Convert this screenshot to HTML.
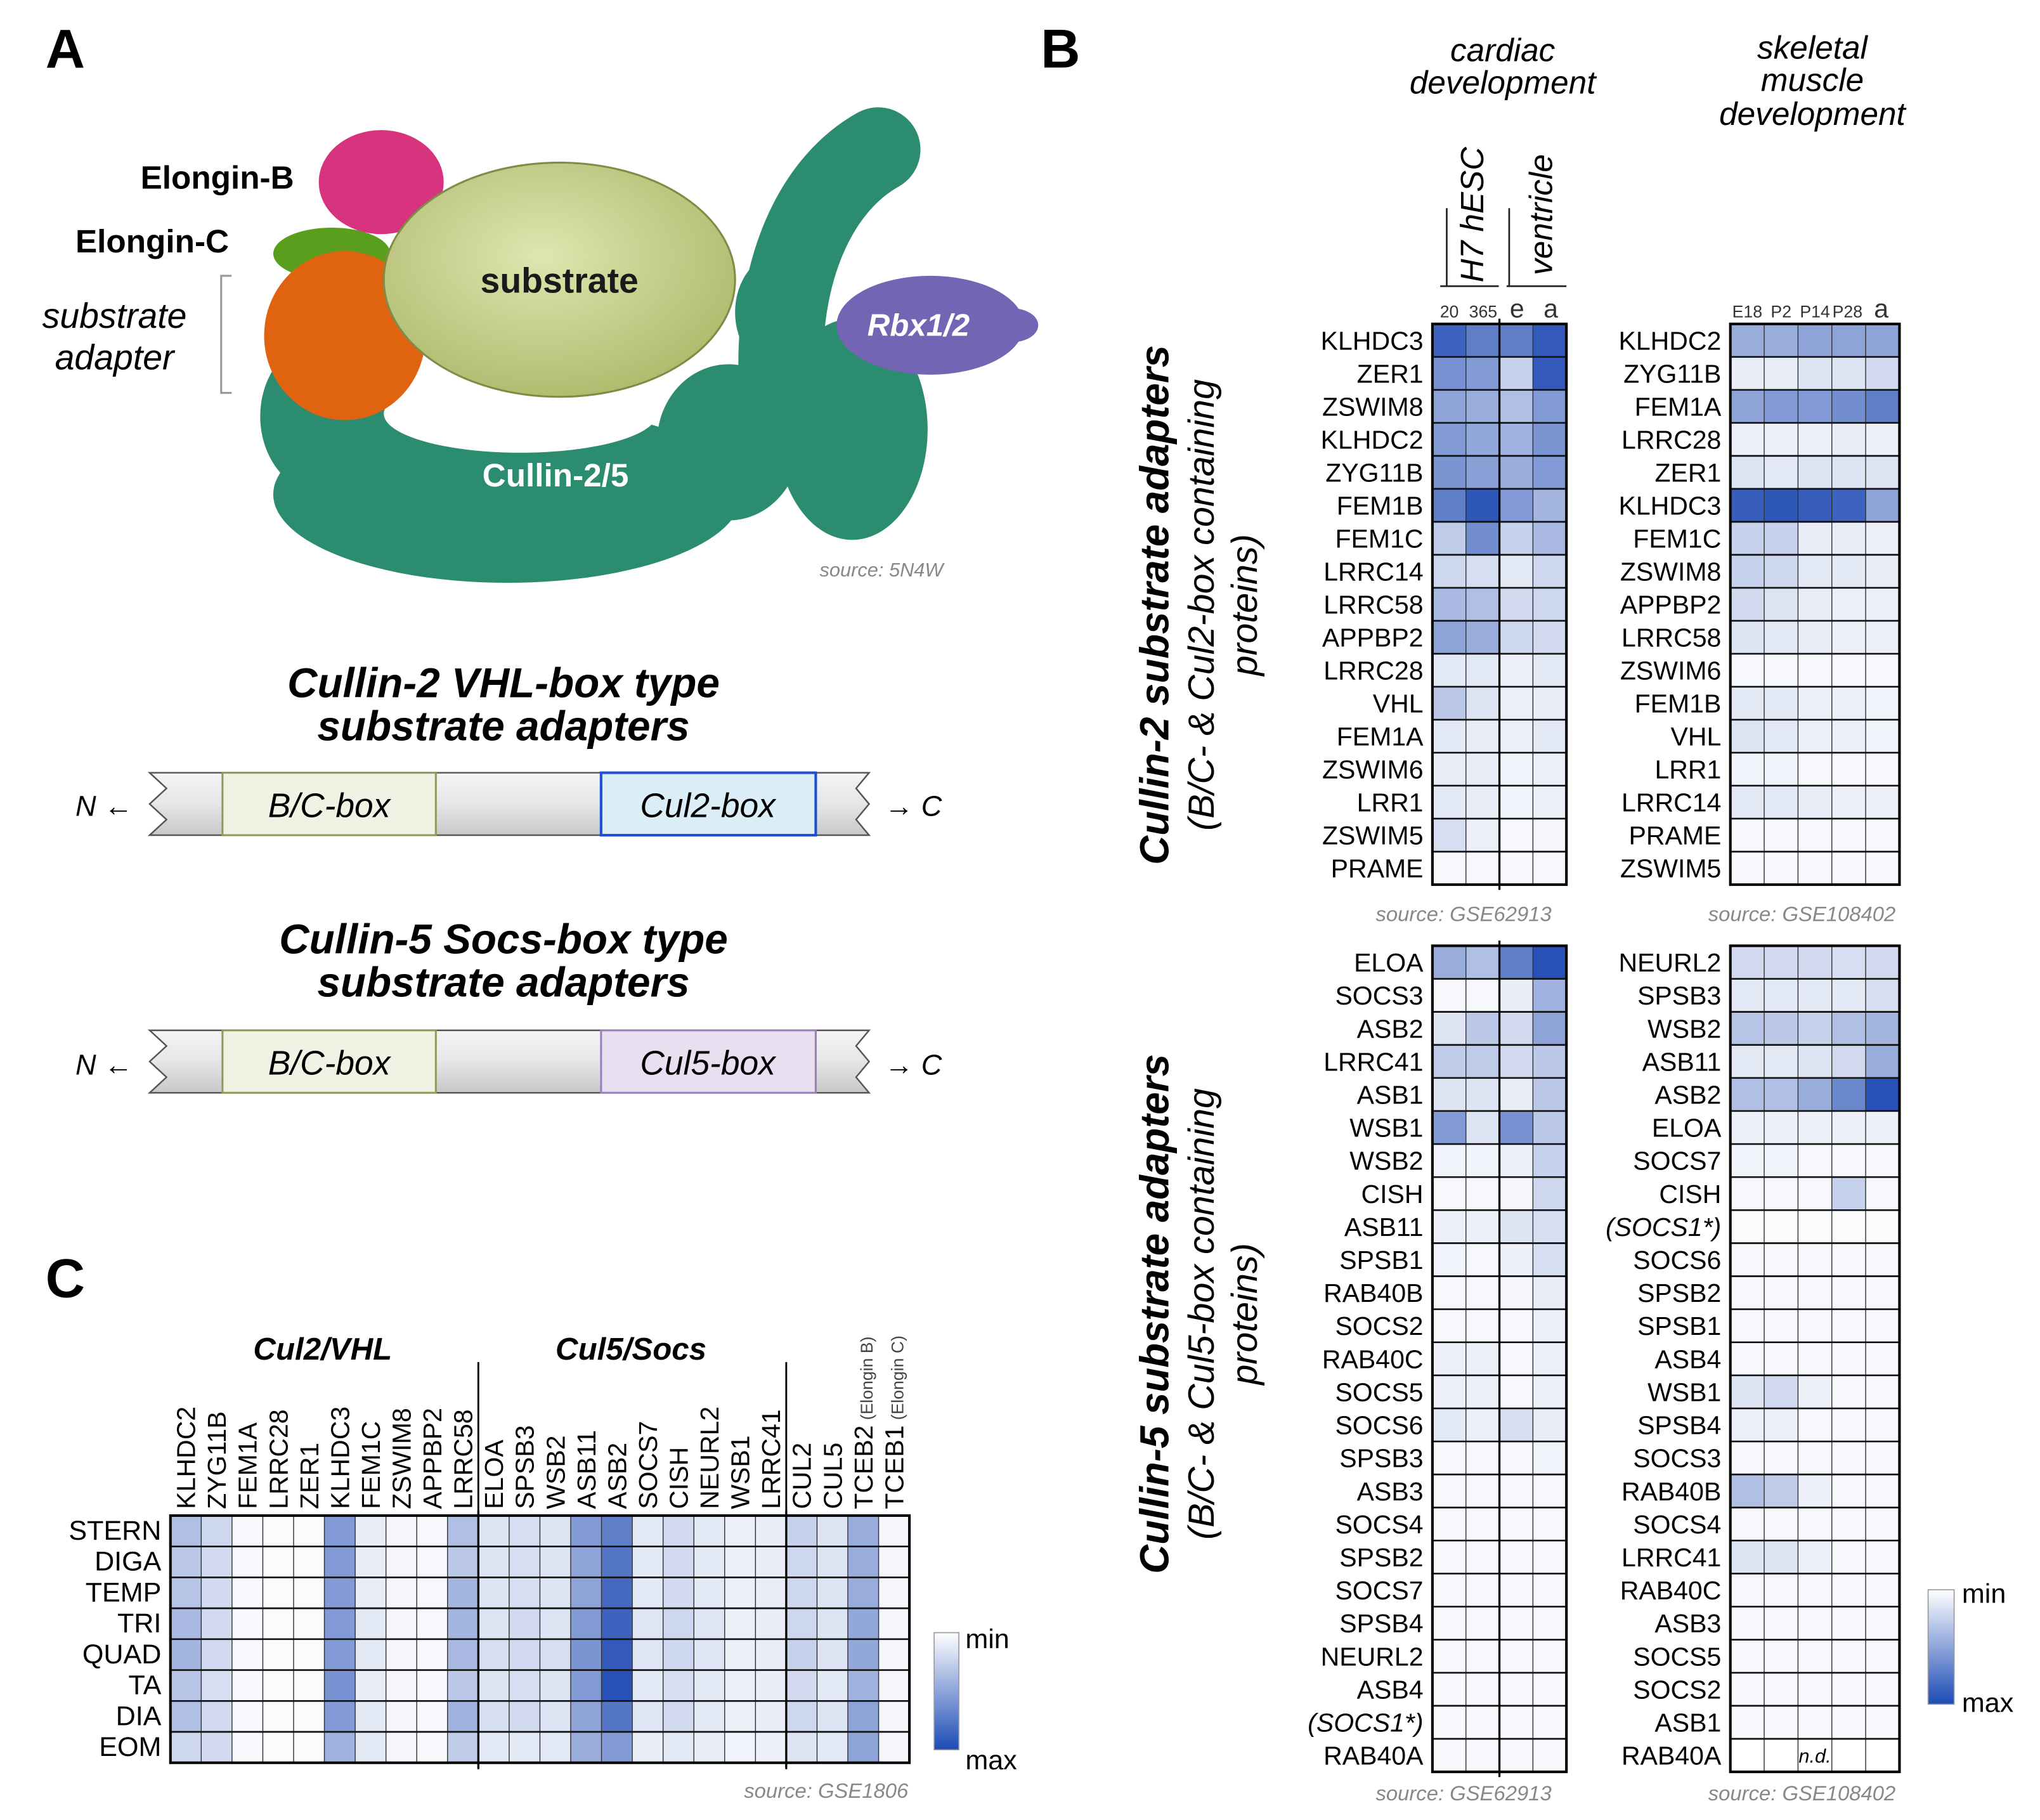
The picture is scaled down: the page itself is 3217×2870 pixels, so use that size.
<!DOCTYPE html>
<html><head><meta charset="utf-8"><style>
html,body{margin:0;padding:0;background:#fff}
svg{display:block}
text{font-family:"Liberation Sans",sans-serif}
</style></head><body>
<svg id="fig" width="3217" height="2870" viewBox="0 0 1568 1399" preserveAspectRatio="none" xmlns="http://www.w3.org/2000/svg">
<defs>
<linearGradient id="legGrad" x1="0" y1="0" x2="0" y2="1"><stop offset="0" stop-color="#ffffff"/><stop offset="1" stop-color="#1c4bb5"/></linearGradient>
<radialGradient id="subGrad" cx="0.45" cy="0.4" r="0.7"><stop offset="0" stop-color="#dfe6b0"/><stop offset="1" stop-color="#a9b565"/></radialGradient>
<linearGradient id="barGrad" x1="0" y1="0" x2="0" y2="1"><stop offset="0" stop-color="#f4f4f4"/><stop offset="0.5" stop-color="#e6e6e6"/><stop offset="1" stop-color="#c8c8c8"/></linearGradient>
</defs>
<text x="35" y="52" font-size="42" font-weight="bold">A</text>
<text x="800" y="52" font-size="42" font-weight="bold">B</text>
<text x="35" y="997" font-size="42" font-weight="bold">C</text>

<g>
<ellipse cx="390" cy="380" rx="180" ry="68" fill="#2b8c70"/>
<ellipse cx="250" cy="320" rx="50" ry="60" fill="#2b8c70"/>
<ellipse cx="560" cy="340" rx="55" ry="60" fill="#2b8c70"/>
<ellipse cx="655" cy="330" rx="58" ry="85" fill="#2b8c70"/>
<path d="M600 280 C 600 200, 630 140, 675 115" fill="none" stroke="#2b8c70" stroke-width="65" stroke-linecap="round"/>
<ellipse cx="600" cy="240" rx="35" ry="45" fill="#2b8c70"/>
<ellipse cx="400" cy="318" rx="105" ry="30" fill="#ffffff"/>
<ellipse cx="715" cy="250" rx="72" ry="38" fill="#7464b4"/>
<ellipse cx="778" cy="250" rx="20" ry="13" fill="#7464b4"/>
<ellipse cx="293" cy="140" rx="48" ry="40" fill="#d8337f"/>
<ellipse cx="255" cy="195" rx="45" ry="20" fill="#5a9e1e"/>
<ellipse cx="265" cy="258" rx="62" ry="65" fill="#e0630f"/>
<ellipse cx="430" cy="215" rx="135" ry="90" fill="url(#subGrad)" stroke="#7e8c45" stroke-width="1.5"/>
<text x="430" y="225" font-size="27" font-weight="bold" text-anchor="middle" fill="#1a1a1a">substrate</text>
<text x="706" y="258" font-size="24" font-weight="bold" font-style="italic" text-anchor="middle" fill="#fff">Rbx1/2</text>
<text x="427" y="374" font-size="25" font-weight="bold" text-anchor="middle" fill="#fff">Cullin-2/5</text>
</g>
<text x="108" y="145" font-size="25" font-weight="bold">Elongin-B</text>
<text x="58" y="194" font-size="25" font-weight="bold">Elongin-C</text>
<text x="88" y="252" font-size="27" font-style="italic" text-anchor="middle">substrate</text>
<text x="88" y="284" font-size="27" font-style="italic" text-anchor="middle">adapter</text>
<path d="M178 212 H170 V302 H178" fill="none" stroke="#999" stroke-width="1.5"/>
<text x="630" y="443" font-size="15" font-style="italic" fill="#888">source:  5N4W</text>

<text x="387" y="536" font-size="32" font-weight="bold" font-style="italic" text-anchor="middle">Cullin-2 VHL-box type</text>
<text x="387" y="569" font-size="32" font-weight="bold" font-style="italic" text-anchor="middle">substrate adapters</text>
<g>
<path d="M115 594 H668 L658 606 L668 618 L658 630 L668 642 H115 L128 630 L115 618 L128 606 Z" fill="url(#barGrad)" stroke="#555" stroke-width="1.2"/>
<rect x="171" y="594" width="164" height="48" fill="#f0f3e4" stroke="#8d9c5a" stroke-width="1.5"/>
<text x="253" y="628" font-size="26" font-style="italic" text-anchor="middle">B/C-box</text>
<rect x="462" y="594" width="165" height="48" fill="#dbeef8" stroke="#1f4fd6" stroke-width="2"/>
<text x="544" y="628" font-size="26" font-style="italic" text-anchor="middle">Cul2-box</text>
</g>
<text x="58" y="627" font-size="22" font-style="italic">N ←</text>
<text x="680" y="627" font-size="22" font-style="italic">→ C</text>
<text x="387" y="733" font-size="32" font-weight="bold" font-style="italic" text-anchor="middle">Cullin-5 Socs-box type</text>
<text x="387" y="766" font-size="32" font-weight="bold" font-style="italic" text-anchor="middle">substrate adapters</text>
<g>
<path d="M115 792 H668 L658 804 L668 816 L658 828 L668 840 H115 L128 828 L115 816 L128 804 Z" fill="url(#barGrad)" stroke="#555" stroke-width="1.2"/>
<rect x="171" y="792" width="164" height="48" fill="#f0f3e4" stroke="#8d9c5a" stroke-width="1.5"/>
<text x="253" y="826" font-size="26" font-style="italic" text-anchor="middle">B/C-box</text>
<rect x="462" y="792" width="165" height="48" fill="#e8dff0" stroke="#9a80b8" stroke-width="1.5"/>
<text x="544" y="826" font-size="26" font-style="italic" text-anchor="middle">Cul5-box</text>
</g>
<text x="58" y="826" font-size="22" font-style="italic">N ←</text>
<text x="680" y="826" font-size="22" font-style="italic">→ C</text>

<text x="1155" y="47" font-size="25" font-style="italic" text-anchor="middle">cardiac</text>
<text x="1155" y="72" font-size="25" font-style="italic" text-anchor="middle">development</text>
<text x="1393" y="45" font-size="25" font-style="italic" text-anchor="middle">skeletal</text>
<text x="1393" y="70" font-size="25" font-style="italic" text-anchor="middle">muscle</text>
<text x="1393" y="96" font-size="25" font-style="italic" text-anchor="middle">development</text>
<text transform="translate(1140,165) rotate(-90)" font-size="25" font-style="italic" text-anchor="middle">H7 hESC</text>
<text transform="translate(1193,165) rotate(-90)" font-size="25" font-style="italic" text-anchor="middle">ventricle</text>
<path d="M1107 220 H1152 M1158 220 H1204 M1112 220 V160 M1160 220 V160" stroke="#222" stroke-width="1.3" fill="none"/>
<text x="1114" y="244" font-size="13" text-anchor="middle" fill="#333">20</text>
<text x="1140" y="244" font-size="13" text-anchor="middle" fill="#333">365</text>
<text x="1166" y="244" font-size="20" text-anchor="middle" fill="#333">e</text>
<text x="1192" y="244" font-size="20" text-anchor="middle" fill="#333">a</text>
<text x="1343" y="244" font-size="13" text-anchor="middle" fill="#333">E18</text>
<text x="1369" y="244" font-size="13" text-anchor="middle" fill="#333">P2</text>
<text x="1395" y="244" font-size="13" text-anchor="middle" fill="#333">P14</text>
<text x="1420" y="244" font-size="13" text-anchor="middle" fill="#333">P28</text>
<text x="1446" y="244" font-size="20" text-anchor="middle" fill="#333">a</text>

<text transform="translate(898,465) rotate(-90)" font-size="31" font-weight="bold" font-style="italic" text-anchor="middle">Cullin-2 substrate adapters</text>
<text transform="translate(933,465) rotate(-90)" font-size="28" font-style="italic" text-anchor="middle">(B/C- &amp; Cul2-box containing</text>
<text transform="translate(966,465) rotate(-90)" font-size="28" font-style="italic" text-anchor="middle">proteins)</text>
<text transform="translate(898,1010) rotate(-90)" font-size="31" font-weight="bold" font-style="italic" text-anchor="middle">Cullin-5 substrate adapters</text>
<text transform="translate(933,1010) rotate(-90)" font-size="28" font-style="italic" text-anchor="middle">(B/C- &amp; Cul5-box containing</text>
<text transform="translate(966,1010) rotate(-90)" font-size="28" font-style="italic" text-anchor="middle">proteins)</text>

<text x="1125" y="708" font-size="16" font-style="italic" fill="#888" text-anchor="middle">source: GSE62913</text>
<text x="1385" y="708" font-size="16" font-style="italic" fill="#888" text-anchor="middle">source: GSE108402</text>
<text x="1125" y="1384" font-size="16" font-style="italic" fill="#888" text-anchor="middle">source: GSE62913</text>
<text x="1385" y="1384" font-size="16" font-style="italic" fill="#888" text-anchor="middle">source: GSE108402</text>
<text x="635" y="1382" font-size="16" font-style="italic" fill="#888" text-anchor="middle">source: GSE1806</text>

<rect x="1482" y="1222" width="20" height="88" fill="url(#legGrad)" stroke="#999" stroke-width="0.8"/>
<text x="1508" y="1232" font-size="21">min</text>
<text x="1508" y="1316" font-size="21">max</text>
<rect x="718" y="1255" width="19" height="90" fill="url(#legGrad)" stroke="#999" stroke-width="0.8"/>
<text x="742" y="1267" font-size="21">min</text>
<text x="742" y="1360" font-size="21">max</text>

<text x="248" y="1045" font-size="24" font-weight="bold" font-style="italic" text-anchor="middle">Cul2/VHL</text>
<text x="485" y="1045" font-size="24" font-weight="bold" font-style="italic" text-anchor="middle">Cul5/Socs</text>
<g id="heatmaps"></g>
</svg>
<script>
const cul2CardiacGenes = ["KLHDC3","ZER1","ZSWIM8","KLHDC2","ZYG11B","FEM1B","FEM1C","LRRC14","LRRC58","APPBP2","LRRC28","VHL","FEM1A","ZSWIM6","LRR1","ZSWIM5","PRAME"];
const cul2CardiacValues = [
[0.85,0.7,0.7,0.9],[0.6,0.55,0.25,0.9],[0.5,0.45,0.35,0.55],[0.55,0.48,0.42,0.58],[0.58,0.52,0.45,0.55],
[0.7,0.92,0.55,0.4],[0.28,0.62,0.25,0.38],[0.22,0.18,0.12,0.22],[0.38,0.35,0.2,0.22],[0.5,0.45,0.22,0.2],
[0.12,0.12,0.08,0.12],[0.3,0.15,0.08,0.1],[0.12,0.1,0.08,0.12],[0.1,0.1,0.06,0.08],[0.12,0.1,0.06,0.08],[0.18,0.08,0.04,0.05],[0.04,0.04,0.03,0.04]];
const cul2SkeletalGenes = ["KLHDC2","ZYG11B","FEM1A","LRRC28","ZER1","KLHDC3","FEM1C","ZSWIM8","APPBP2","LRRC58","ZSWIM6","FEM1B","VHL","LRR1","LRRC14","PRAME","ZSWIM5"];
const cul2SkeletalValues = [
[0.45,0.45,0.5,0.5,0.5],[0.1,0.1,0.15,0.15,0.2],[0.5,0.55,0.55,0.62,0.7],[0.08,0.08,0.08,0.1,0.08],[0.15,0.12,0.15,0.15,0.15],
[0.88,0.92,0.88,0.85,0.5],[0.25,0.25,0.1,0.1,0.08],[0.25,0.22,0.12,0.12,0.1],[0.2,0.15,0.1,0.08,0.08],[0.15,0.12,0.1,0.08,0.08],
[0.04,0.04,0.04,0.04,0.04],[0.12,0.12,0.08,0.08,0.06],[0.15,0.12,0.08,0.08,0.06],[0.06,0.06,0.04,0.04,0.04],[0.12,0.12,0.1,0.08,0.08],[0.03,0.03,0.03,0.03,0.03],[0.03,0.03,0.03,0.03,0.03]];
const cul5CardiacGenes = ["ELOA","SOCS3","ASB2","LRRC41","ASB1","WSB1","WSB2","CISH","ASB11","SPSB1","RAB40B","SOCS2","RAB40C","SOCS5","SOCS6","SPSB3","ASB3","SOCS4","SPSB2","SOCS7","SPSB4","NEURL2","ASB4","(SOCS1*)","RAB40A"];
const cul5CardiacValues = [
[0.45,0.35,0.7,0.95],[0.04,0.04,0.1,0.42],[0.15,0.3,0.2,0.5],[0.28,0.28,0.2,0.3],[0.15,0.15,0.1,0.3],
[0.55,0.15,0.6,0.3],[0.06,0.06,0.08,0.25],[0.04,0.04,0.05,0.22],[0.08,0.08,0.15,0.18],[0.06,0.04,0.08,0.18],
[0.04,0.04,0.05,0.1],[0.04,0.04,0.04,0.08],[0.08,0.08,0.04,0.08],[0.08,0.08,0.04,0.08],[0.12,0.08,0.18,0.1],
[0.04,0.04,0.04,0.06],[0.04,0.04,0.04,0.04],[0.04,0.04,0.04,0.04],[0.04,0.04,0.04,0.04],[0.04,0.04,0.04,0.04],
[0.04,0.04,0.04,0.04],[0.04,0.04,0.04,0.04],[0.03,0.03,0.03,0.03],[0.03,0.03,0.03,0.03],[0.03,0.03,0.03,0.03]];
const cul5SkeletalGenes = ["NEURL2","SPSB3","WSB2","ASB11","ASB2","ELOA","SOCS7","CISH","(SOCS1*)","SOCS6","SPSB2","SPSB1","ASB4","WSB1","SPSB4","SOCS3","RAB40B","SOCS4","LRRC41","RAB40C","ASB3","SOCS5","SOCS2","ASB1","RAB40A"];
const cul5SkeletalValues = [
[0.2,0.2,0.2,0.18,0.2],[0.12,0.12,0.12,0.12,0.18],[0.32,0.3,0.25,0.35,0.4],[0.12,0.12,0.15,0.2,0.45],[0.35,0.35,0.45,0.65,0.95],
[0.08,0.08,0.08,0.08,0.08],[0.06,0.06,0.04,0.04,0.04],[0.04,0.04,0.04,0.25,0.04],[0.02,0.02,0.02,0.02,0.02],[0.04,0.04,0.04,0.04,0.04],
[0.04,0.04,0.04,0.04,0.04],[0.04,0.04,0.04,0.04,0.04],[0.04,0.04,0.04,0.04,0.04],[0.15,0.2,0.08,0.04,0.04],[0.08,0.08,0.04,0.04,0.04],
[0.04,0.04,0.04,0.04,0.04],[0.35,0.28,0.08,0.04,0.04],[0.04,0.04,0.04,0.04,0.04],[0.15,0.15,0.08,0.04,0.04],[0.04,0.04,0.04,0.04,0.04],
[0.03,0.03,0.03,0.03,0.03],[0.03,0.03,0.03,0.03,0.03],[0.03,0.03,0.03,0.03,0.03],[0.03,0.03,0.03,0.03,0.03],null];
const muscleTissues = ["STERN","DIGA","TEMP","TRI","QUAD","TA","DIA","EOM"];
const muscleGenes = ["KLHDC2","ZYG11B","FEM1A","LRRC28","ZER1","KLHDC3","FEM1C","ZSWIM8","APPBP2","LRRC58","ELOA","SPSB3","WSB2","ASB11","ASB2","SOCS7","CISH","NEURL2","WSB1","LRRC41","CUL2","CUL5","TCEB2","TCEB1"];
const muscleGeneNotes = ["","","","","","","","","","","","","","","","","","","","","","","(Elongin B)","(Elongin C)"];
const muscleValues = [
[0.35,0.22,0.03,0.02,0.02,0.55,0.1,0.05,0.04,0.35,0.15,0.18,0.15,0.55,0.7,0.12,0.2,0.12,0.08,0.1,0.25,0.15,0.45,0.05],
[0.3,0.2,0.03,0.02,0.02,0.55,0.1,0.05,0.04,0.3,0.15,0.18,0.15,0.5,0.75,0.12,0.2,0.12,0.08,0.1,0.22,0.15,0.45,0.05],
[0.32,0.2,0.03,0.02,0.02,0.55,0.1,0.05,0.04,0.4,0.15,0.18,0.15,0.5,0.82,0.12,0.2,0.12,0.08,0.1,0.22,0.15,0.45,0.05],
[0.38,0.2,0.03,0.02,0.02,0.55,0.12,0.05,0.04,0.4,0.15,0.2,0.15,0.55,0.85,0.14,0.22,0.14,0.08,0.1,0.22,0.15,0.48,0.05],
[0.4,0.2,0.03,0.02,0.02,0.55,0.12,0.05,0.04,0.38,0.18,0.2,0.18,0.58,0.9,0.14,0.22,0.14,0.08,0.1,0.25,0.15,0.48,0.05],
[0.32,0.18,0.03,0.02,0.02,0.6,0.1,0.05,0.04,0.3,0.15,0.18,0.15,0.55,0.95,0.12,0.18,0.12,0.08,0.1,0.2,0.12,0.42,0.05],
[0.35,0.2,0.03,0.02,0.02,0.55,0.12,0.05,0.04,0.42,0.18,0.2,0.15,0.5,0.75,0.14,0.2,0.12,0.08,0.1,0.22,0.15,0.5,0.05],
[0.22,0.2,0.03,0.02,0.02,0.42,0.12,0.05,0.04,0.28,0.12,0.12,0.12,0.45,0.55,0.1,0.12,0.1,0.06,0.08,0.15,0.12,0.5,0.05]];

const NS="http://www.w3.org/2000/svg";
const root=document.getElementById('heatmaps');
function colorFor(v){
  const c0=[255,255,255], c1=[28,72,178];
  const t=Math.max(0,Math.min(1,v));
  const r=Math.round(c0[0]+(c1[0]-c0[0])*t), g=Math.round(c0[1]+(c1[1]-c0[1])*t), b=Math.round(c0[2]+(c1[2]-c0[2])*t);
  return `rgb(${r},${g},${b})`;
}
function mk(tag,attrs,parent){const e=document.createElementNS(NS,tag);for(const k in attrs)e.setAttribute(k,attrs[k]);(parent||root).appendChild(e);return e;}
function heatmap(name,x0,y0,x1,y1,labels,values,divCols,labelSize){
  const g=mk('g',{});
  
  
  const nr=labels.length, nc=values.find(r=>r).length;
  const cw=(x1-x0)/nc, rh=(y1-y0)/nr;
  const xs=c=>x0+c*cw, ys=r=>y0+r*rh;
  labels.forEach((lab,r)=>{
    const t=mk('text',{x:x0-7,y:ys(r)+rh*0.78,'font-size':labelSize,'text-anchor':'end','font-style':lab.startsWith('(')?'italic':'normal'},g);
    t.textContent=lab;
    
    
    const row=values[r];
    if(!row) return;
    row.forEach((v,c)=>{
      const cell=mk('rect',{x:xs(c),y:ys(r),width:cw,height:rh,fill:colorFor(v)},g);
      
      
    });
  });
  for(let c=1;c<nc;c++) mk('line',{x1:xs(c),x2:xs(c),y1:y0,y2:y1,stroke:'#333','stroke-width':0.7},g);
  for(let r=1;r<nr;r++) mk('line',{x1:x0,x2:x1,y1:ys(r),y2:ys(r),stroke:'#111','stroke-width':1.3},g);
  divCols.forEach(c=>mk('line',{x1:xs(c),x2:xs(c),y1:y0-4,y2:y1+4,stroke:'#000','stroke-width':1.6},g));
  mk('rect',{x:x0,y:y0,width:x1-x0,height:y1-y0,fill:'none',stroke:'#000','stroke-width':2},g);
  return {g,xs,ys,cw,rh};
}
heatmap('cul2-cardiac-heatmap',1101,249,1204,680,cul2CardiacGenes,cul2CardiacValues,[2],20);
heatmap('cul2-skeletal-heatmap',1330,249,1460,680,cul2SkeletalGenes,cul2SkeletalValues,[],20);
heatmap('cul5-cardiac-heatmap',1101,727,1204,1362,cul5CardiacGenes,cul5CardiacValues,[2],20);
const br=heatmap('cul5-skeletal-heatmap',1330,727,1460,1362,cul5SkeletalGenes,cul5SkeletalValues,[],20);
const nd=mk('text',{x:1395,y:br.ys(24)+br.rh*0.72,'font-size':15,'font-style':'italic','text-anchor':'middle'},br.g);
nd.textContent='n.d.';



const hc=heatmap('muscle-heatmap',131,1165,699,1355,muscleTissues,muscleValues,[10,20],21);
mk('line',{x1:hc.xs(10),x2:hc.xs(10),y1:1047,y2:1360,stroke:'#000','stroke-width':1.4},hc.g);
mk('line',{x1:hc.xs(20),x2:hc.xs(20),y1:1047,y2:1360,stroke:'#000','stroke-width':1.4},hc.g);
muscleGenes.forEach((gname,c)=>{
  const t=mk('text',{transform:`translate(${hc.xs(c)+hc.cw*0.8},1160) rotate(-90)`,'font-size':20},hc.g);
  t.textContent=gname;
  
  
  if(muscleGeneNotes[c]){
    const n=mk('tspan',{'font-size':13,fill:'#444',dx:4},t);
    n.textContent=muscleGeneNotes[c];
  }
});
</script>
</body></html>
